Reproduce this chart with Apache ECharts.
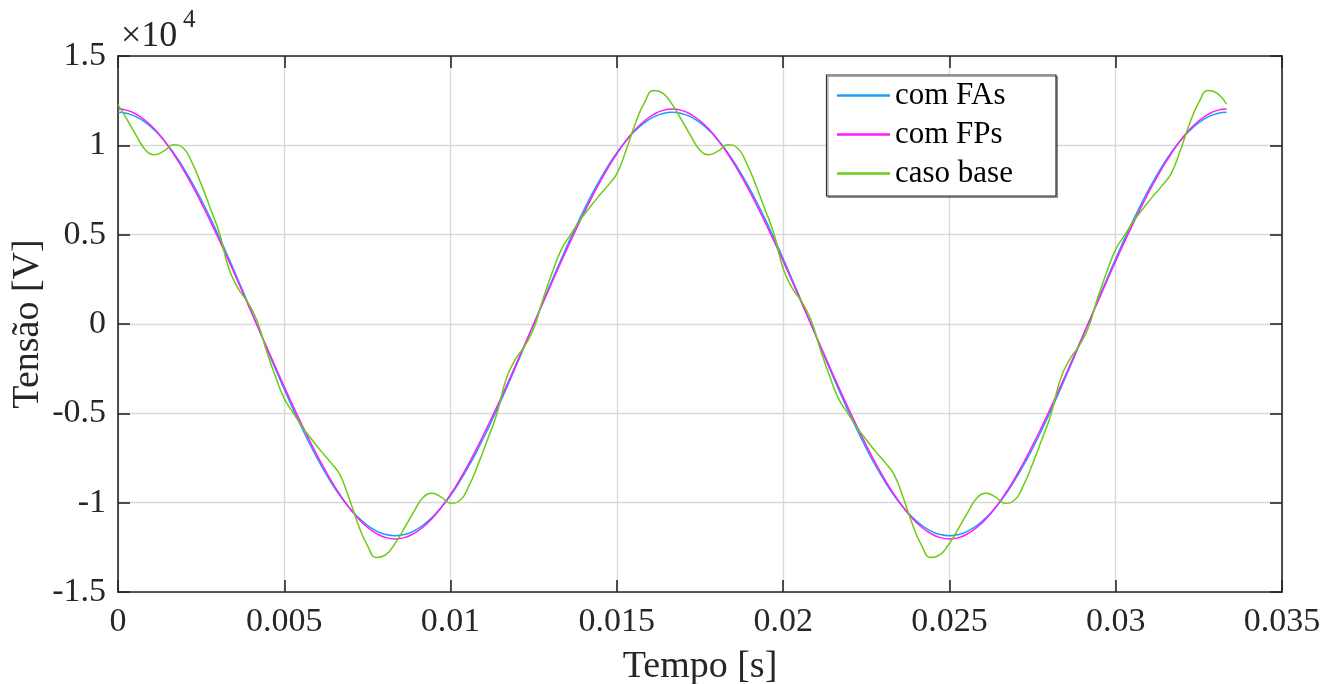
<!DOCTYPE html>
<html>
<head>
<meta charset="utf-8">
<script src="https://cdn.jsdelivr.net/npm/echarts@6/dist/echarts.min.js"></script>
<style>
html,body{margin:0;padding:0;background:#fff;}
#chart{width:1335px;height:684px;}
</style>
</head>
<body>
<div id="chart"></div>
<script>
// Sample grid: 60 samples per 60 Hz period, two periods (0 .. 1/30 s)
const sampleStep = 1 / 3600;
const time = Array.from({length: 121}, (_, k) => k * sampleStep);

const seriesNames = ['com FAs', 'com FPs', 'caso base'];
const xTitle = 'Tempo [s]';
const yTitle = 'Tensão [V]';

const comFAs = [11850,11785,11591,11270,10826,10262,9587,8806,7929,6965,5925,4820,3662,2464,1239,0,-1239,-2464,-3662,-4820,-5925,-6965,-7929,-8806,-9587,-10262,-10826,-11270,-11591,-11785,
-11850,-11785,-11591,-11270,-10826,-10262,-9587,-8806,-7929,-6965,-5925,-4820,-3662,-2464,-1239,0,1239,2464,3662,4820,5925,6965,7929,8806,9587,10262,10826,11270,11591,11785,
11850,11785,11591,11270,10826,10262,9587,8806,7929,6965,5925,4820,3662,2464,1239,0,-1239,-2464,-3662,-4820,-5925,-6965,-7929,-8806,-9587,-10262,-10826,-11270,-11591,-11785,
-11850,-11785,-11591,-11270,-10826,-10262,-9587,-8806,-7929,-6965,-5925,-4820,-3662,-2464,-1239,0,1239,2464,3662,4820,5925,6965,7929,8806,9587,10262,10826,11270,11591,11785,
11850];

const comFPs = [12030,11956,11737,11376,10882,10262,9531,8700,7783,6794,5745,4649,3516,2358,1183,0,-1183,-2358,-3516,-4649,-5745,-6794,-7783,-8700,-9531,-10262,-10882,-11376,-11737,-11956,
-12030,-11956,-11737,-11376,-10882,-10262,-9531,-8700,-7783,-6794,-5745,-4649,-3516,-2358,-1183,0,1183,2358,3516,4649,5745,6794,7783,8700,9531,10262,10882,11376,11737,11956,
12030,11956,11737,11376,10882,10262,9531,8700,7783,6794,5745,4649,3516,2358,1183,0,-1183,-2358,-3516,-4649,-5745,-6794,-7783,-8700,-9531,-10262,-10882,-11376,-11737,-11956,
-12030,-11956,-11737,-11376,-10882,-10262,-9531,-8700,-7783,-6794,-5745,-4649,-3516,-2358,-1183,0,1183,2358,3516,4649,5745,6794,7783,8700,9531,10262,10882,11376,11737,11956,
12030];

const casoBase = [12280,11430,10530,9730,9475,9690,10030,9880,9050,7830,6470,5050,3100,2000,1250,250,-1380,-2870,-4180,-5000,-5800,-6480,-7130,-7730,-8420,-9720,-11220,-12400,-13070,-12910,
-12280,-11430,-10530,-9730,-9475,-9690,-10030,-9880,-9050,-7830,-6470,-5050,-3100,-2000,-1250,-250,1380,2870,4180,5000,5800,6480,7130,7730,8420,9720,11220,12400,13070,12910,
12280,11430,10530,9730,9475,9690,10030,9880,9050,7830,6470,5050,3100,2000,1250,250,-1380,-2870,-4180,-5000,-5800,-6480,-7130,-7730,-8420,-9720,-11220,-12400,-13070,-12910,
-12280,-11430,-10530,-9730,-9475,-9690,-10030,-9880,-9050,-7830,-6470,-5050,-3100,-2000,-1250,-250,1380,2870,4180,5000,5800,6480,7130,7730,8420,9720,11220,12400,13070,12910,
12300];

const xTickLabels = ['0','0.005','0.01','0.015','0.02','0.025','0.03','0.035'];
const yTickLabels = ['-1.5','-1','-0.5','0','0.5','1','1.5'];
const colors = ['#1a9ff5', '#ff19ff', '#6ccc14'];

const FONT = '"Liberation Serif", "Times New Roman", serif';
const AXIS_COLOR = '#262626';

function pairs(vals) { return vals.map((v, i) => [time[i], v]); }

const chart = echarts.init(document.getElementById('chart'), null, {renderer: 'canvas'});

const frameAxisLine = {show: true, onZero: false, lineStyle: {color: AXIS_COLOR, width: 1.6}};
const frameTick = {show: true, inside: true, length: 12, lineStyle: {color: AXIS_COLOR, width: 1.6}};
const gridLine = {show: true, lineStyle: {color: '#d9d9d9', width: 1.4}};

const option = {
  animation: false,
  backgroundColor: '#ffffff',
  color: colors,
  grid: {left: 118, right: 53, top: 56, bottom: 92, containLabel: false, outerBoundsMode: 'none'},
  xAxis: [
    {
      type: 'value', min: 0, max: 0.035, interval: 0.005, position: 'bottom',
      axisLine: frameAxisLine, axisTick: frameTick, splitLine: gridLine,
      axisLabel: {
        color: '#262626', fontFamily: FONT, fontSize: 34, margin: 13,
        formatter: (v) => xTickLabels[Math.round(v / 0.005)]
      },
      name: xTitle, nameLocation: 'middle', nameGap: 56,
      nameTextStyle: {color: '#262626', fontFamily: FONT, fontSize: 38}
    },
    {
      type: 'value', min: 0, max: 0.035, interval: 0.005, position: 'top',
      axisLine: frameAxisLine, axisTick: frameTick, splitLine: {show: false},
      axisLabel: {show: false}
    }
  ],
  yAxis: [
    {
      type: 'value', min: -15000, max: 15000, interval: 5000, position: 'left',
      axisLine: frameAxisLine, axisTick: frameTick, splitLine: gridLine,
      axisLabel: {
        color: '#262626', fontFamily: FONT, fontSize: 34, margin: 12,
        formatter: (v) => yTickLabels[Math.round((v + 15000) / 5000)]
      }
    },
    {
      type: 'value', min: -15000, max: 15000, interval: 5000, position: 'right',
      axisLine: frameAxisLine, axisTick: frameTick, splitLine: {show: false},
      axisLabel: {show: false}
    }
  ],
  legend: {
    data: seriesNames.map((n) => ({name: n, icon: 'rect'})),
    orient: 'vertical',
    left: 837, top: 80,
    padding: 0,
    itemGap: 8,
    itemWidth: 53, itemHeight: 2.5,
    z: 10,
    textStyle: {color: '#000', fontFamily: FONT, fontSize: 31, padding: [0, 0, 0, 0]}
  },
  graphic: [
    {
      type: 'rect', z: 8, silent: true,
      shape: {x: 826.5, y: 75, width: 229.5, height: 121},
      style: {fill: '#fff', stroke: '#2a2a2a', lineWidth: 1.2,
              shadowColor: 'rgba(0,0,0,0.35)', shadowOffsetX: 1.5, shadowOffsetY: 1.5, shadowBlur: 0}
    },
    {
      type: 'text', left: 121, top: 19, z: 10,
      style: {text: '×10', fill: '#262626', font: '36px ' + FONT}
    },
    {
      type: 'text', left: 183, top: 8, z: 10,
      style: {text: '4', fill: '#262626', font: '25px ' + FONT}
    },
    {
      type: 'text', x: 28, y: 324, rotation: Math.PI / 2, z: 10,
      style: {text: yTitle, fill: '#262626', font: '38px ' + FONT, align: 'center', verticalAlign: 'middle'}
    }
  ],
  series: [
    {name: seriesNames[0], type: 'line', data: pairs(comFAs), xAxisIndex: 0, yAxisIndex: 0,
     symbol: 'none', showSymbol: false, smooth: 0.5, lineStyle: {width: 1.5, color: colors[0]}, itemStyle: {color: colors[0]}, z: 2},
    {name: seriesNames[1], type: 'line', data: pairs(comFPs), xAxisIndex: 0, yAxisIndex: 0,
     symbol: 'none', showSymbol: false, smooth: 0.5, lineStyle: {width: 1.5, color: colors[1]}, itemStyle: {color: colors[1]}, z: 3},
    {name: seriesNames[2], type: 'line', data: pairs(casoBase), xAxisIndex: 0, yAxisIndex: 0,
     symbol: 'none', showSymbol: false, smooth: 0.5, lineStyle: {width: 1.5, color: colors[2]}, itemStyle: {color: colors[2]}, z: 4}
  ]
};

chart.setOption(option);
</script>
</body>
</html>
